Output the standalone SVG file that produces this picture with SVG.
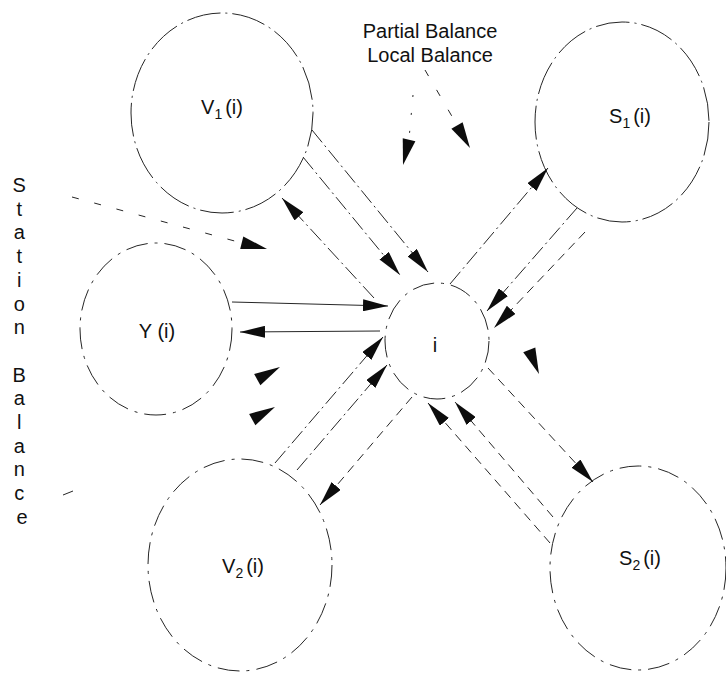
<svg xmlns="http://www.w3.org/2000/svg" width="726" height="674" viewBox="0 0 726 674">
<defs>
<style>
.node ellipse{fill:none;stroke:#262626;stroke-width:1}
.lbl{font-family:"Liberation Sans",Arial,Helvetica,sans-serif;font-size:20px;fill:#111}
.c{fill:none;stroke:#262626;stroke-width:1}
.dd{stroke-dasharray:16 4 2 4}
.ds{stroke-dasharray:9 6}
.ldd{stroke-dasharray:34 5 2 5}
.mdd{stroke-dasharray:22 7 3 7}
.sp{stroke-dasharray:7 16}
.sp2{stroke-dasharray:2 16}
.ah{fill:#0d0d0d}
</style>
<marker id="arr" viewBox="0 0 25 12" refX="25" refY="6" markerWidth="25" markerHeight="12" markerUnits="userSpaceOnUse" orient="auto">
<path d="M0,0 L25,6 L0,12 Z" fill="#0d0d0d"/>
</marker>
<path id="ah" d="M-26,-6.5 L0,0 L-26,6.5 Z"/>
</defs>
<rect width="726" height="674" fill="#ffffff"/>

<g id="V1" class="node">
<ellipse cx="222" cy="113" rx="91" ry="100" class="ldd"/>
<text class="lbl" x="222" y="114" text-anchor="middle">V<tspan font-size="14" dy="5">1</tspan><tspan dy="-5" dx="3">(i)</tspan></text>
</g>
<g id="S1" class="node">
<ellipse cx="622" cy="122" rx="87" ry="100" class="ldd"/>
<text class="lbl" x="630" y="123" text-anchor="middle">S<tspan font-size="14" dy="5">1</tspan><tspan dy="-5" dx="3">(i)</tspan></text>
</g>
<g id="Y" class="node">
<ellipse cx="156" cy="329" rx="76" ry="86" class="mdd"/>
<text class="lbl" x="157" y="338" text-anchor="middle">Y (i)</text>
</g>
<g id="i" class="node">
<ellipse cx="437" cy="341" rx="52" ry="58" class="mdd"/>
<text class="lbl" x="435" y="352" text-anchor="middle">i</text>
</g>
<g id="V2" class="node">
<ellipse cx="240" cy="565" rx="92" ry="106" class="mdd"/>
<text class="lbl" x="243" y="573" text-anchor="middle">V<tspan font-size="14" dy="5">2</tspan><tspan dy="-5" dx="3">(i)</tspan></text>
</g>
<g id="S2" class="node">
<ellipse cx="638" cy="568" rx="88" ry="102" class="mdd"/>
<text class="lbl" x="640" y="565" text-anchor="middle">S<tspan font-size="14" dy="5">2</tspan><tspan dy="-5" dx="3">(i)</tspan></text>
</g>

<g id="annotations">
<text class="lbl" x="430" y="38" text-anchor="middle">Partial Balance</text>
<text class="lbl" x="430" y="62" text-anchor="middle">Local Balance</text>
<text class="lbl" text-anchor="middle">
<tspan x="22" y="192">S</tspan>
<tspan x="22" y="215.7">t</tspan>
<tspan x="22" y="239.4">a</tspan>
<tspan x="22" y="263">t</tspan>
<tspan x="22" y="286.8">i</tspan>
<tspan x="22" y="310.5">o</tspan>
<tspan x="22" y="334.2">n</tspan>
<tspan x="22" y="381.6">B</tspan>
<tspan x="22" y="405.3">a</tspan>
<tspan x="22" y="429">l</tspan>
<tspan x="22" y="452.7">a</tspan>
<tspan x="22" y="476.4">n</tspan>
<tspan x="22" y="500">c</tspan>
<tspan x="22" y="523.8">e</tspan>
</text>
</g>

<g id="connectors">
<path class="c dd" d="M312,130 L428,272" marker-end="url(#arr)"/>
<path class="c dd" d="M303,157 L400,275" marker-end="url(#arr)"/>
<path class="c dd" d="M374,298 L282,198" marker-end="url(#arr)"/>
<path class="c" d="M232,302 L388,306" marker-end="url(#arr)"/>
<path class="c" d="M380,331 L240,332" marker-end="url(#arr)"/>
<path class="c dd" d="M275,463 L383,337" marker-end="url(#arr)"/>
<path class="c dd" d="M297,470 L387,365" marker-end="url(#arr)"/>
<path class="c ds" d="M412,397 L320,505" marker-end="url(#arr)"/>
<path class="c dd" d="M450,284 L548,168" marker-end="url(#arr)"/>
<path class="c dd" d="M577,208 L487,311" marker-end="url(#arr)"/>
<path class="c ds" d="M585,232 L494,328" marker-end="url(#arr)"/>
<path class="c ds" d="M488,368 L593,482" marker-end="url(#arr)"/>
<path class="c ds" d="M550,543 L428,403" marker-end="url(#arr)"/>
<path class="c ds" d="M553,517 L455,402" marker-end="url(#arr)"/>
<path class="c sp" d="M72,197 L242,243"/>
<use href="#ah" class="ah" transform="translate(267,249) rotate(14)"/>
<path class="c sp" d="M425,70 L457,125"/>
<use href="#ah" class="ah" transform="translate(470,148) rotate(60)"/>
<path class="c sp2" d="M413,95 L409,139"/>
<use href="#ah" class="ah" transform="translate(403,165) rotate(103.5)"/>
<path class="c" d="M63,495 L73,491"/>
<use href="#ah" class="ah" transform="translate(280,367) rotate(-29)"/>
<use href="#ah" class="ah" transform="translate(275,407) rotate(-29)"/>
<use href="#ah" class="ah" transform="translate(539,374) rotate(68)"/>
</g>
</svg>
